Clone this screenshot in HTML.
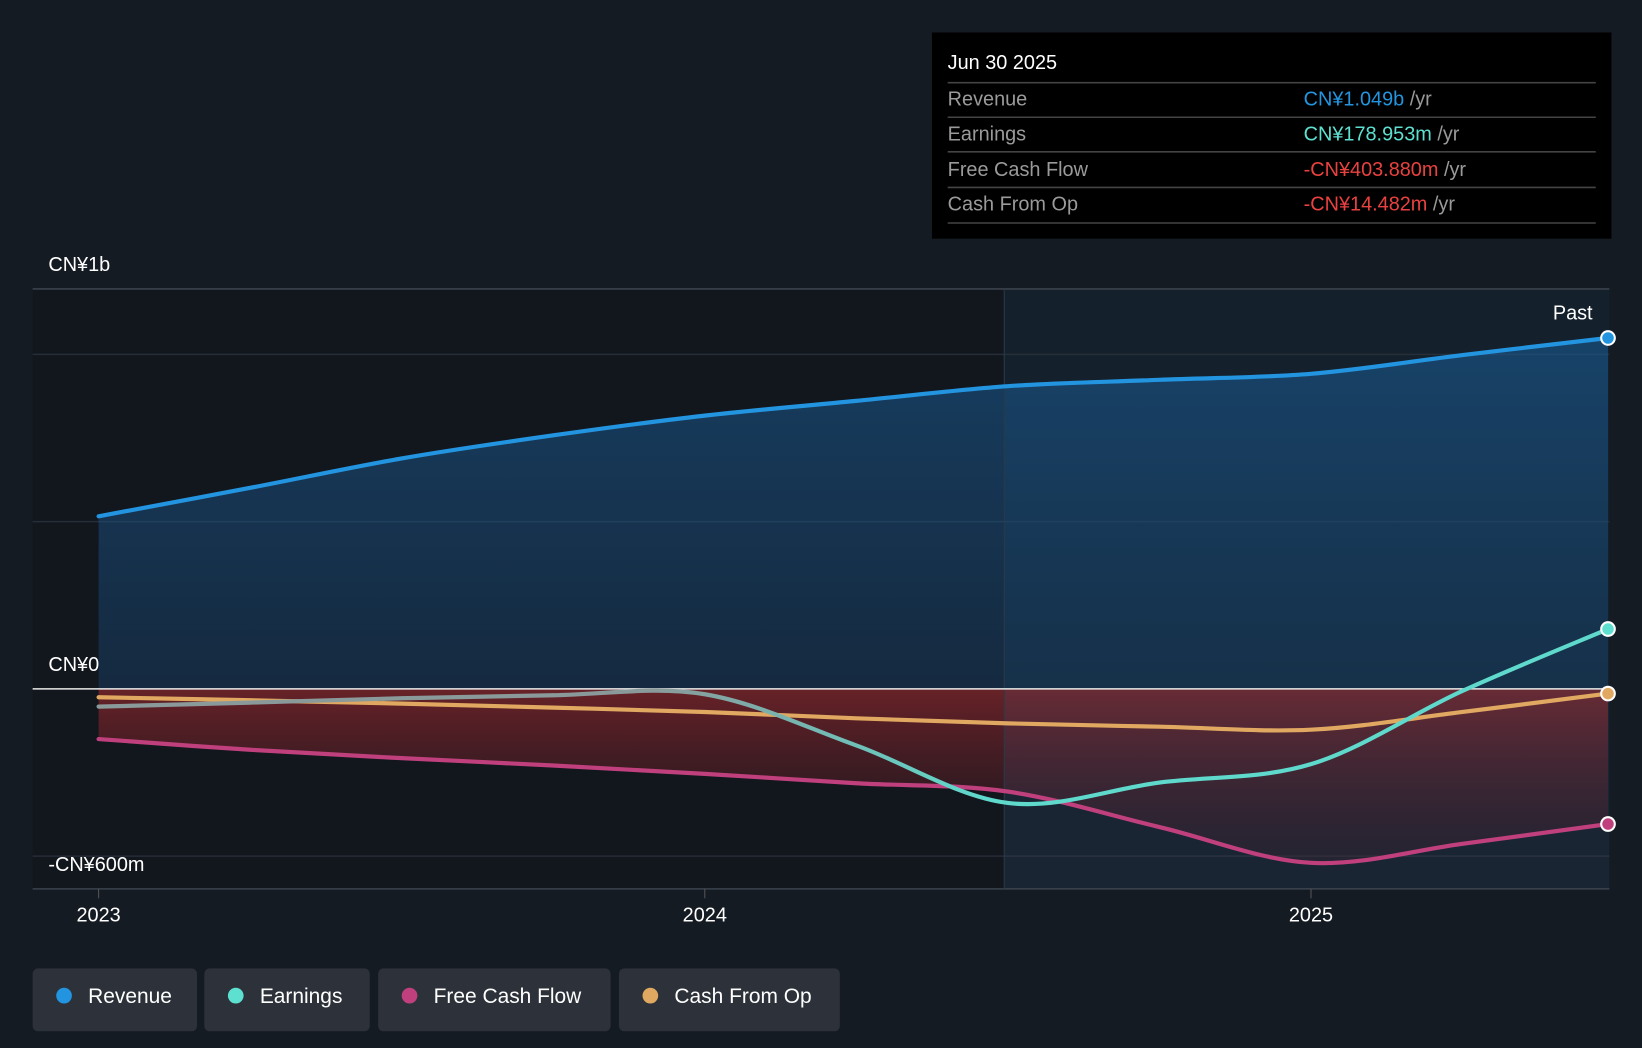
<!DOCTYPE html>
<html><head><meta charset="utf-8"><style>
html,body{margin:0;padding:0;background:#151b23;width:1642px;height:1048px;overflow:hidden}
svg{display:block;font-family:"Liberation Sans","Noto Sans CJK SC",sans-serif}
</style></head><body>
<svg id="chart" width="1642" height="1048" viewBox="0 0 1568 1001" xmlns="http://www.w3.org/2000/svg">
<defs>
<linearGradient id="revFill" x1="0" y1="0" x2="0" y2="1"><stop offset="0" stop-color="#1a5f9a" stop-opacity="0.55"/><stop offset="1" stop-color="#1a4f80" stop-opacity="0.35"/></linearGradient>
<linearGradient id="negFill" x1="0" y1="0" x2="0" y2="1"><stop offset="0" stop-color="#a02a2e" stop-opacity="0.6"/><stop offset="1" stop-color="#4a1a25" stop-opacity="0.2"/></linearGradient>
<linearGradient id="earnStroke" gradientUnits="userSpaceOnUse" x1="0" y1="0" x2="1568" y2="0"><stop offset="0.40" stop-color="#8a9a9a"/><stop offset="0.6" stop-color="#5ed9cc"/></linearGradient>
<clipPath id="plotClip"><rect x="31" y="276" width="1506" height="573"/></clipPath>
</defs>
<rect x="31" y="276" width="928" height="573" fill="#12161d"/>
<rect x="959" y="276" width="578" height="573" fill="#14202c"/>
<g id="grid"></g>
<g id="areas" clip-path="url(#plotClip)"></g>
<line x1="959" y1="276" x2="959" y2="849" stroke="#2a3a48" stroke-width="1"/>
<g id="lines"></g>
<g id="axes"></g>
<text x="1521" y="305" fill="#fff" font-size="19" text-anchor="end">Past</text>
<g>
<rect x="890" y="31" width="649" height="197" fill="#000"/>
<text x="905" y="66" fill="#fff" font-size="19">Jun 30 2025</text>
<line x1="905" y1="79" x2="1524" y2="79" stroke="#444" stroke-width="1.5"/>
<text x="905" y="101" fill="#9a9a9a" font-size="19">Revenue</text>
<text x="1245" y="101" font-size="19"><tspan fill="#2394df">CN¥1.049b</tspan><tspan fill="#9a9a9a"> /yr</tspan></text>
<line x1="905" y1="112" x2="1524" y2="112" stroke="#444" stroke-width="1.5"/>
<text x="905" y="134" fill="#9a9a9a" font-size="19">Earnings</text>
<text x="1245" y="134" font-size="19"><tspan fill="#5ee0d0">CN¥178.953m</tspan><tspan fill="#9a9a9a"> /yr</tspan></text>
<line x1="905" y1="145" x2="1524" y2="145" stroke="#444" stroke-width="1.5"/>
<text x="905" y="168" fill="#9a9a9a" font-size="19">Free Cash Flow</text>
<text x="1245" y="168" font-size="19"><tspan fill="#e8413f">-CN¥403.880m</tspan><tspan fill="#9a9a9a"> /yr</tspan></text>
<line x1="905" y1="179" x2="1524" y2="179" stroke="#444" stroke-width="1.5"/>
<text x="905" y="201" fill="#9a9a9a" font-size="19">Cash From Op</text>
<text x="1245" y="201" font-size="19"><tspan fill="#e8413f">-CN¥14.482m</tspan><tspan fill="#9a9a9a"> /yr</tspan></text>
<line x1="905" y1="213" x2="1524" y2="213" stroke="#444" stroke-width="1.5"/>
</g>
<g id="legend"></g>
</svg>
<script>
const dates = [2023.0,2023.25,2023.5,2023.75,2024.0,2024.25,2024.5,2024.75,2025.0,2025.25,2025.49];
const revenue = [516,601,689,758,817,861,905,924,942,998,1049];
const earnings = [-53,-41,-28,-19,-16,-169,-341,-280,-225,-6,179];
const fcf = [-150,-182,-207,-229,-254,-282,-307,-413,-520,-463,-404];
const cfo = [-25,-34,-44,-56,-69,-88,-103,-113,-122,-69,-14];
const yTicks = [1000,0,-600];
const yTickLabels = ["CN¥1b","CN¥0","-CN¥600m"];
const xTicks = [2023,2024,2025];
const NS="http://www.w3.org/2000/svg";
function X(t){return 94+(t-2023)*579;}
function Y(v){return 658-v*0.3195;}
function mk(tag,attrs,parent){const e=document.createElementNS(NS,tag);for(const k in attrs)e.setAttribute(k,attrs[k]);parent.appendChild(e);return e;}
function pts(vals){return dates.map((d,i)=>[X(d),Y(vals[i])]);}
function smooth(p){let d="M"+p[0][0]+","+p[0][1];for(let i=0;i<p.length-1;i++){const p0=p[i-1]||p[i],p1=p[i],p2=p[i+1],p3=p[i+2]||p2;const c1=[p1[0]+(p2[0]-p0[0])/6,p1[1]+(p2[1]-p0[1])/6],c2=[p2[0]-(p3[0]-p1[0])/6,p2[1]-(p3[1]-p1[1])/6];d+=" C"+c1[0]+","+c1[1]+" "+c2[0]+","+c2[1]+" "+p2[0]+","+p2[1];}return d;}
const grid=document.getElementById('grid'),areas=document.getElementById('areas'),lines=document.getElementById('lines'),axes=document.getElementById('axes'),legend=document.getElementById('legend');
[[276,"#3a424c"],[Y(1000),"#262e38"],[Y(500),"#262e38"],[Y(-500),"#262e38"],[849,"#3a424c"]].forEach(g=>{
 const l=mk('line',{x1:31,x2:1537,y1:g[0],y2:g[0],stroke:g[1],'stroke-width':1.5},grid);
 
 
});
yTicks.forEach((v,i)=>{const t=mk('text',{x:46,y:(v===1000?259:v===0?641:832),fill:'#fff','font-size':19},axes);t.textContent=yTickLabels[i];
 
 });
xTicks.forEach(t=>{mk('line',{x1:X(t),x2:X(t),y1:849,y2:858,stroke:'#555'},axes);const e=mk('text',{x:X(t),y:880,fill:'#fff','font-size':19,'text-anchor':'middle'},axes);e.textContent=t;
 
 });
function area(vals,fill,name){const p=pts(vals);const d=smooth(p)+" L"+p[p.length-1][0]+","+Y(0)+" L"+p[0][0]+","+Y(0)+" Z";const a=mk('path',{d:d,fill:fill},areas);
 
 }
area(revenue,'url(#revFill)','revenue-area');
area(fcf,'url(#negFill)','fcf-area');
mk('rect',{x:959,y:658,width:578,height:191,fill:'#6a6a9a','fill-opacity':0.08},areas);
const zl=mk('line',{x1:31,x2:1537,y1:Y(0),y2:Y(0),stroke:'#e8e8e8','stroke-width':1.5},lines);


function line(vals,color,name,dot){const p=pts(vals);const l=mk('path',{d:smooth(p),fill:'none',stroke:color,'stroke-width':4,'stroke-linecap':'round'},lines);
 
 
 const e=p[p.length-1];const c=mk('circle',{cx:e[0],cy:e[1],r:6.5,fill:dot,stroke:'#fff','stroke-width':2},lines);
 
 }
line(cfo,'#e0a860','cash-from-op-line','#e0a860');
line(fcf,'#c0407e','free-cash-flow-line','#c0407e');
line(earnings,'url(#earnStroke)','earnings-line','#5ee0d0');
line(revenue,'#2394df','revenue-line','#2394df');
const legItems=[["Revenue","#2394df",31,157],["Earnings","#5ee0d0",195,158],["Free Cash Flow","#c0407e",361,222],["Cash From Op","#e0a860",591,211]];
legItems.forEach(it=>{const g=mk('g',{},legend);
 
 
 mk('rect',{x:it[2],y:925,width:it[3],height:60,rx:5,fill:'#2c313a'},g);
 mk('circle',{cx:it[2]+30,cy:951,r:7.5,fill:it[1]},g);
 const t=mk('text',{x:it[2]+53,y:958,fill:'#fff','font-size':20},g);t.textContent=it[0];});
</script>
</body></html>
